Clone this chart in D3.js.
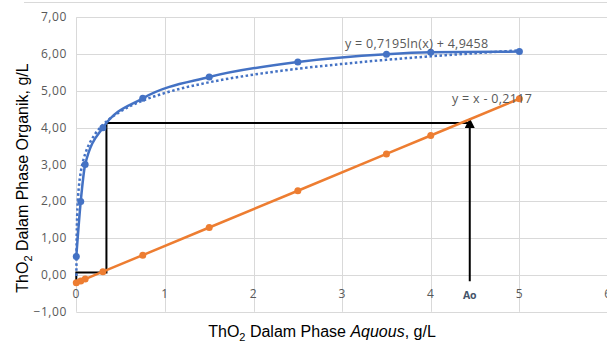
<!DOCTYPE html>
<html>
<head>
<meta charset="utf-8">
<script src="https://cdn.jsdelivr.net/npm/d3@7"></script>
<style>
	body { margin: 0; background: #fff; }
	svg { display: block; }
	.tick-label { font-family: 'Open Sans', sans-serif; font-size: 12px; fill: #595959; letter-spacing: 0.6px; }
	.axis-title { font-family: 'Liberation Sans', Arial, sans-serif; font-size: 16px; fill: #000; }
	.eq-label { font-family: 'Open Sans', sans-serif; font-size: 12.5px; fill: #595959; letter-spacing: 0.3px; }
</style>
</head>
<body>
<div id="chart"></div>
<script>

// blue series (organic vs aquous)
var blueX = [0, 0.05, 0.1, 0.3, 0.75, 1.5, 2.5, 3.5, 4.0, 5.0]
var blueY = [0.5, 2.0, 3.0, 4.0, 4.8, 5.38, 5.79, 6.0, 6.05, 6.07]

// orange operating line
var orangeX = [0, 0.05, 0.1, 0.3, 0.75, 1.5, 2.5, 3.5, 4.0, 5.0]
var orangeY = [-0.21, -0.16, -0.11, 0.09, 0.54, 1.29, 2.29, 3.29, 3.79, 4.79]

// log trendline printed on the chart: y = a ln(x) + b
var trendA = 0.7195
var trendB = 4.9458
var trendX = [0.001, 0.002, 0.005, 0.01, 0.02, 0.03, 0.05, 0.075, 0.1, 0.15, 0.2, 0.3, 0.4, 0.5, 0.75, 1, 1.5, 2, 2.5, 3, 3.5, 4, 4.5, 5]

// black construction (step + Ao arrow)
var stepX = [0, 0, 0.34, 0.34, 4.44]
var stepY = [-0.15, 0.07, 0.07, 4.13, 4.13]
var arrowX = [4.44, 4.44]
var arrowY = [-0.17, 4.13]

var xTicks = [0, 1, 2, 3, 4, 5, 6]
var yTicks = [-1, 0, 1, 2, 3, 4, 5, 6, 7]

var W = 607, H = 345

var xScale = d3.scaleLinear().domain([0, 6]).range([76.3, 608])
var yScale = d3.scaleLinear().domain([-1, 7]).range([311.8, 17.4])

var svg = d3.select('#chart').append('svg')
	.attr('width', W)
	.attr('height', H)

var defs = svg.append('defs')
defs.append('marker')
	.attr('id', 'arrowhead')
	.attr('viewBox', '0 0 10 10')
	.attr('refX', 5)
	.attr('refY', 5)
	.attr('markerWidth', 5)
	.attr('markerHeight', 5)
	.attr('markerUnits', 'strokeWidth')
	.attr('orient', 'auto')
	.append('path')
	.attr('d', 'M0,0 L10,5 L0,10 Z')
	.attr('fill', '#000')

// faint border at top
svg.append('line')
	.attr('x1', 24).attr('x2', W)
	.attr('y1', 2.5).attr('y2', 2.5)
	.attr('stroke', '#d9d9d9')
	.attr('stroke-width', 1)

// gridlines
var grid = svg.append('g').attr('class', 'grid')

grid.selectAll('.hgrid')
	.data(yTicks)
	.enter().append('line')
	.attr('class', 'hgrid')
	.attr('x1', xScale(0)).attr('x2', W)
	.attr('y1', function(d) { return Math.round(yScale(d)) + 0.5 })
	.attr('y2', function(d) { return Math.round(yScale(d)) + 0.5 })
	.attr('stroke', '#d9d9d9')

grid.selectAll('.vgrid')
	.data(xTicks)
	.enter().append('line')
	.attr('class', 'vgrid')
	.attr('x1', function(d) { return Math.round(xScale(d)) + 0.5 })
	.attr('x2', function(d) { return Math.round(xScale(d)) + 0.5 })
	.attr('y1', yScale(7)).attr('y2', yScale(-1))
	.attr('stroke', '#d9d9d9')

// tick labels
svg.selectAll('.ylab')
	.data(yTicks)
	.enter().append('text')
	.attr('class', 'tick-label ylab')
	.attr('x', 67)
	.attr('y', function(d) { return yScale(d) + 4 })
	.attr('text-anchor', 'end')
	.text(function(d) { return d3.format('.2f')(d).replace('.', ',') })

svg.selectAll('.xlab')
	.data(xTicks)
	.enter().append('text')
	.attr('class', 'tick-label xlab')
	.attr('x', function(d) { return xScale(d) })
	.attr('y', yScale(0) + 23)
	.attr('text-anchor', 'middle')
	.text(function(d) { return d })

// axis titles
var yTitle = svg.append('text')
	.attr('class', 'axis-title')
	.attr('transform', 'translate(28,178) rotate(-90)')
	.attr('text-anchor', 'middle')
yTitle.append('tspan').text('ThO')
yTitle.append('tspan').attr('font-size', '11px').attr('dy', 4).text('2')
yTitle.append('tspan').attr('dy', -4).text(' Dalam  Phase Organik, g/L')

var xTitle = svg.append('text')
	.attr('class', 'axis-title')
	.attr('x', 322)
	.attr('y', 337)
	.attr('text-anchor', 'middle')
xTitle.append('tspan').text('ThO')
xTitle.append('tspan').attr('font-size', '11px').attr('dy', 4).text('2')
xTitle.append('tspan').attr('dy', -4).text(' Dalam Phase ')
xTitle.append('tspan').attr('font-style', 'italic').text('Aquous')
xTitle.append('tspan').text(', g/L')

var line = d3.line()
	.x(function(d) { return xScale(d[0]) })
	.y(function(d) { return yScale(d[1]) })

// black construction lines
svg.append('path')
	.datum(d3.zip(stepX, stepY))
	.attr('d', line)
	.attr('fill', 'none')
	.attr('stroke', '#000')
	.attr('stroke-width', 2)

svg.append('path')
	.datum(d3.zip(arrowX, arrowY))
	.attr('d', line)
	.attr('fill', 'none')
	.attr('stroke', '#000')
	.attr('stroke-width', 2)
	.attr('marker-end', 'url(#arrowhead)')

// dotted log trendline
svg.append('path')
	.datum(trendX.map(function(x) { return [x, trendA * Math.log(x) + trendB] }))
	.attr('d', line.curve(d3.curveMonotoneX))
	.attr('fill', 'none')
	.attr('stroke', '#4472C4')
	.attr('stroke-width', 2.5)
	.attr('stroke-dasharray', '2.5,2.5')

// orange series
var orangeData = d3.zip(orangeX, orangeY)
svg.append('path')
	.datum(orangeData)
	.attr('d', line.curve(d3.curveLinear))
	.attr('fill', 'none')
	.attr('stroke', '#ED7D31')
	.attr('stroke-width', 2.5)

svg.selectAll('.odot')
	.data(orangeData)
	.enter().append('circle')
	.attr('class', 'odot')
	.attr('cx', function(d) { return xScale(d[0]) })
	.attr('cy', function(d) { return yScale(d[1]) })
	.attr('r', 3.5)
	.attr('fill', '#ED7D31')

// blue series
var blueData = d3.zip(blueX, blueY)
svg.append('path')
	.datum(blueData)
	.attr('d', line.curve(d3.curveMonotoneX))
	.attr('fill', 'none')
	.attr('stroke', '#4472C4')
	.attr('stroke-width', 2.5)

svg.selectAll('.bdot')
	.data(blueData)
	.enter().append('circle')
	.attr('class', 'bdot')
	.attr('cx', function(d) { return xScale(d[0]) })
	.attr('cy', function(d) { return yScale(d[1]) })
	.attr('r', 3.5)
	.attr('fill', '#4472C4')

// equation labels
svg.append('text')
	.attr('class', 'eq-label')
	.attr('x', 345)
	.attr('y', 48)
	.text('y = 0,7195ln(x) + 4,9458')

svg.append('text')
	.attr('class', 'eq-label')
	.attr('x', 452)
	.attr('y', 103)
	.text('y = x - 0,2117')

// Ao label
svg.append('text')
	.attr('x', xScale(4.44))
	.attr('y', 299)
	.attr('text-anchor', 'middle')
	.attr('font-family', "'Open Sans', sans-serif")
	.attr('font-size', '10.5px')
	.attr('font-weight', 'bold')
	.attr('fill', '#44546A')
	.text('Ao')

</script>
</body>
</html>
